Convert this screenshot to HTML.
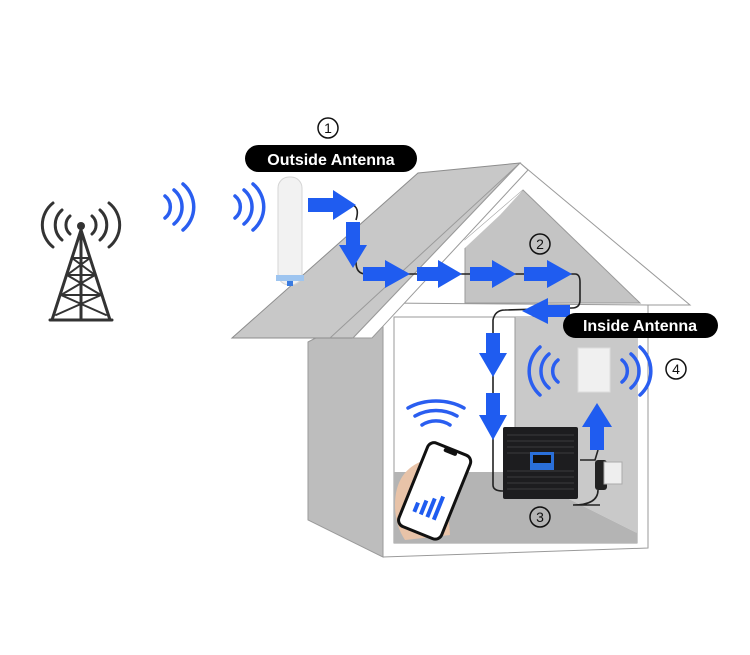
<!DOCTYPE html>
<html><head><meta charset="utf-8"><style>
html,body{margin:0;padding:0;background:#fff;}
svg{display:block;}
text{font-family:"Liberation Sans","DejaVu Sans",sans-serif;}
</style></head><body>
<svg width="750" height="655" viewBox="0 0 750 655" xmlns="http://www.w3.org/2000/svg">
<!-- left side wall -->
<polygon points="308,342 383,303 383,557 308,520" fill="#bdbdbd" stroke="#9a9a9a" stroke-width="1"/>
<!-- front wall frame -->
<polygon points="383,303 648,303 648,548 383,557" fill="#fff" stroke="#9a9a9a" stroke-width="1"/>
<!-- room interior -->
<rect x="394" y="317" width="243" height="226" fill="#fff" stroke="#9a9a9a"/>
<polygon points="515,317 637,317 637,533 515,472" fill="#c9c9c9"/>
<polygon points="394,472 515,472 637,533 637,543 394,543" fill="#b4b4b4"/>
<line x1="515" y1="317" x2="515" y2="472" stroke="#999"/>
<!-- gable -->
<polygon points="520,163 690,305 648,305 383,303" fill="#fff" stroke="#9a9a9a"/>
<polygon points="523,190 640,303 465,303 465,240" fill="#c4c4c4" stroke="#9a9a9a"/>
<polygon points="465,240 523,190 500,215 420,290" fill="#fff"/>
<!-- left roof slab -->
<polygon points="232,338 418,173 520,163 353,338" fill="#c8c8c8" stroke="#8d8d8d"/>
<polygon points="353,338 520,163 528,170 372,338" fill="#fff" stroke="#9a9a9a"/>
<line x1="330" y1="338" x2="520" y2="163" stroke="#9a9a9a"/>

<!-- tower -->
<g stroke="#333" stroke-width="3" fill="none" stroke-linecap="round">
<path d="M81,230 L52,320 M81,230 L110,320 M81,230 L81,320 M50,320 L112,320"/>
<path d="M72,258 L90,258 M67,275 L95,275 M61,295 L101,295 M72,258 L95,275 L61,295 L106,315 M90,258 L67,275 L101,295 L56,315" stroke-width="2"/>
<path d="M70,216 a12,12 0 0 0 0,18 M62,210 a20,20 0 0 0 0,30 M53,203 a28,28 0 0 0 0,44 M92,216 a12,12 0 0 1 0,18 M100,210 a20,20 0 0 1 0,30 M109,203 a28,28 0 0 1 0,44"/>
</g>
<circle cx="81" cy="226" r="4" fill="#333"/>
<!-- signal arcs -->
<g stroke="#2a5ef0" stroke-width="3.5" fill="none" stroke-linecap="round">
<path d="M165,196 a14,14 0 0 1 0,22 M174,190 a22,22 0 0 1 0,34 M183,184 a30,30 0 0 1 0,46"/>
<path d="M235,196 a14,14 0 0 1 0,22 M244,190 a22,22 0 0 1 0,34 M253,184 a30,30 0 0 1 0,46"/>
<path d="M558,360 a14,14 0 0 0 0,22 M549,354 a22,22 0 0 0 0,34 M540,347 a32,32 0 0 0 0,48"/>
<path d="M622,360 a14,14 0 0 1 0,22 M631,354 a22,22 0 0 1 0,34 M640,347 a32,32 0 0 1 0,48"/>
<path d="M422,425 a22,18 0 0 1 28,0 M415,416 a34,26 0 0 1 42,0 M408,408 a46,34 0 0 1 56,0"/>
</g>
<!-- outside antenna -->
<rect x="278" y="177" width="24" height="108" rx="11" fill="#f2f2f2" stroke="#d5d5d5"/>
<rect x="276" y="275" width="28" height="6" fill="#9ec5f0"/>
<rect x="287" y="281" width="6" height="5" fill="#3a7be0"/>
<!-- cables -->
<g stroke="#222" stroke-width="1.6" fill="none">
<path d="M352,205 q8,2 4,15 M356,262 q0,12 10,12 L575,274 q5,0 5,8 L580,300 q0,8 -8,8 L505,310 q-10,0 -12,10 L493,485 q0,6 10,6"/>
<path d="M580,460 L595,460 L598,450 M598,490 q0,15 -25,15 L600,505"/>
</g>
<!-- arrows -->
<g fill="#1f5cf0">
<polygon points="308,198 333,198 333,190 356,205 333,220 333,212 308,212"/>
<polygon points="346,222 360,222 360,245 367,245 353,268 339,245 346,245"/>
<polygon points="363,267 385,267 385,260 410,274 385,288 385,281 363,281"/>
<polygon points="417,267 438,267 438,260 462,274 438,288 438,281 417,281"/>
<polygon points="470,267 492,267 492,260 516,274 492,288 492,281 470,281"/>
<polygon points="524,267 547,267 547,260 572,274 547,288 547,281 524,281"/>
<polygon points="570,305 548,305 548,298 522,311 548,324 548,317 570,317"/>
<polygon points="486,333 500,333 500,353 507,353 493,377 479,353 486,353"/>
<polygon points="486,393 500,393 500,415 507,415 493,440 479,415 486,415"/>
<polygon points="590,450 604,450 604,427 612,427 597,403 582,427 590,427"/>
</g>
<!-- repeater -->
<rect x="503" y="427" width="75" height="72" rx="2" fill="#1d1d1f"/>
<g stroke="#3a3a3c" stroke-width="1">
<line x1="507" y1="435" x2="574" y2="435"/><line x1="507" y1="441" x2="574" y2="441"/><line x1="507" y1="447" x2="574" y2="447"/><line x1="507" y1="453" x2="574" y2="453"/><line x1="507" y1="471" x2="574" y2="471"/><line x1="507" y1="477" x2="574" y2="477"/><line x1="507" y1="483" x2="574" y2="483"/><line x1="507" y1="489" x2="574" y2="489"/>
</g>
<rect x="530" y="452" width="24" height="18" fill="#2a6fd8"/>
<rect x="533" y="455" width="18" height="8" fill="#111"/>
<rect x="595" y="460" width="12" height="30" rx="3" fill="#222"/>
<rect x="604" y="462" width="18" height="22" fill="#eee" stroke="#aaa"/>
<!-- inside antenna panel -->
<rect x="578" y="348" width="32" height="44" fill="#f0f0f0" stroke="#ddd"/>
<!-- phone -->
<path d="M395,505 q0,-35 30,-45 l20,5 l5,70 l-45,5 q-10,-15 -10,-35z" fill="#e8c3a8"/>
<g transform="rotate(22 435 490)">
<rect x="412" y="446" width="46" height="90" rx="7" fill="#fff" stroke="#111" stroke-width="3"/>
<rect x="428" y="447" width="14" height="4" rx="2" fill="#111"/>
<g fill="#1f5cf0"><rect x="422" y="508" width="4" height="10"/><rect x="429" y="503" width="4" height="15"/><rect x="436" y="498" width="4" height="20"/><rect x="443" y="493" width="4" height="25"/></g>
</g>
<!-- labels -->
<rect x="245" y="145" width="172" height="27" rx="13.5" fill="#000"/>
<text x="331" y="165" text-anchor="middle" fill="#fff" font-size="16" font-weight="bold">Outside Antenna</text>
<rect x="563" y="313" width="155" height="25" rx="12.5" fill="#000"/>
<text x="640" y="331" text-anchor="middle" fill="#fff" font-size="16" font-weight="bold">Inside Antenna</text>
<g fill="none" stroke="#111" stroke-width="1.5">
<circle cx="328" cy="128" r="10"/><circle cx="540" cy="244" r="10"/><circle cx="540" cy="517" r="10"/><circle cx="676" cy="369" r="10"/>
</g>
<g font-size="14" text-anchor="middle" fill="#111">
<text x="328" y="133">1</text><text x="540" y="249">2</text><text x="540" y="522">3</text><text x="676" y="374">4</text>
</g>
</svg>
</body></html>
